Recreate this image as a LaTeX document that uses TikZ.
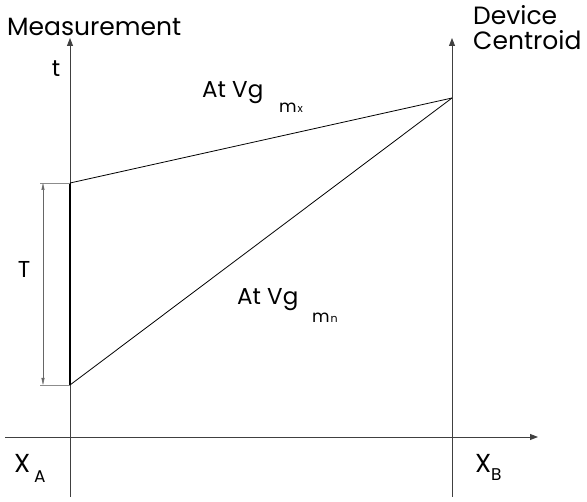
\documentclass[tikz,border=0pt]{standalone}
\usepackage{fontspec}
\setmainfont{Poppins}
\usetikzlibrary{arrows.meta}
\begin{document}
\begin{tikzpicture}[x=1pt,y=-1pt,
  axis/.style={draw=black!75, line width=0.9pt, -{Triangle[length=8pt,width=6pt]}},
  ray/.style={draw=black, line width=0.8pt},
  dim/.style={draw=black!45, line width=0.5pt},
  big/.style={inner sep=0pt, font=\fontsize{25}{28}\selectfont},
  mid/.style={inner sep=0pt, font=\fontsize{23}{26}\selectfont},
  sub/.style={inner sep=0pt, font=\fontsize{17}{19}\selectfont},
  tiny/.style={inner sep=0pt, font=\fontsize{11}{13}\selectfont}]
\useasboundingbox (0,0) rectangle (587,502);
% coordinates
\coordinate (lb) at (70,497);
\coordinate (lt) at (70,38);
\coordinate (rb) at (452,497);
\coordinate (rt) at (452,38);
\coordinate (hl) at (5,437);
\coordinate (hr) at (538,437);
\coordinate (top) at (70,183);
\coordinate (bot) at (70,385);
\coordinate (apex) at (452,98);
\coordinate (dtop) at (43,183);
\coordinate (dbot) at (43,385);
\coordinate (etop) at (40,183);
\coordinate (ebot) at (40,385);
% axes
\draw[axis] (lb) -- (lt);
\draw[axis] (rb) -- (rt);
\draw[axis] (hl) -- (hr);
% rays
\draw[ray] (top) -- (apex);
\draw[ray] (bot) -- (apex);
\draw[draw=black, line width=2pt] (top) -- (bot);
% dimension
\draw[dim] (etop) -- (top);
\draw[dim] (ebot) -- (bot);
\draw[dim, black!60, {Triangle[length=7pt,width=3pt]}-{Triangle[length=7pt,width=3pt]}] (dtop) -- (dbot);
% labels
\node[big, anchor=base west] (meas) at (7,36) {Measurement};
\node[mid, anchor=base] (t) at (56,77) {t};
\node[big, anchor=base west] (dev) at (473,25) {Device};
\node[big, anchor=base west] (cen) at (473,50) {Centroid};
\node[mid, anchor=base] (T) at (24,278) {T};
\node[mid, anchor=base west] (at1) at (202,98) {At Vg};
\node[sub, anchor=base west] (s1) at (279,113) {m};
\node[tiny, anchor=base west] (s1x) at ([xshift=0.5pt]s1.base east) {x};
\node[mid, anchor=base west] (at2) at (237,305) {At Vg};
\node[sub, anchor=base west] (s2) at (312,323) {m};
\node[tiny, anchor=base west] (s2n) at ([xshift=0.5pt]s2.base east) {n};
\node[mid, font=\fontsize{26}{28}\selectfont, anchor=base west] (xa) at (14,473) {X};
\node[sub, anchor=base west] (xas) at (34,483) {A};
\node[mid, font=\fontsize{26}{28}\selectfont, anchor=base west] (xb) at (475,473) {X};
\node[sub, anchor=base west] (xbs) at (491,481) {B};
\end{tikzpicture}
\end{document}
